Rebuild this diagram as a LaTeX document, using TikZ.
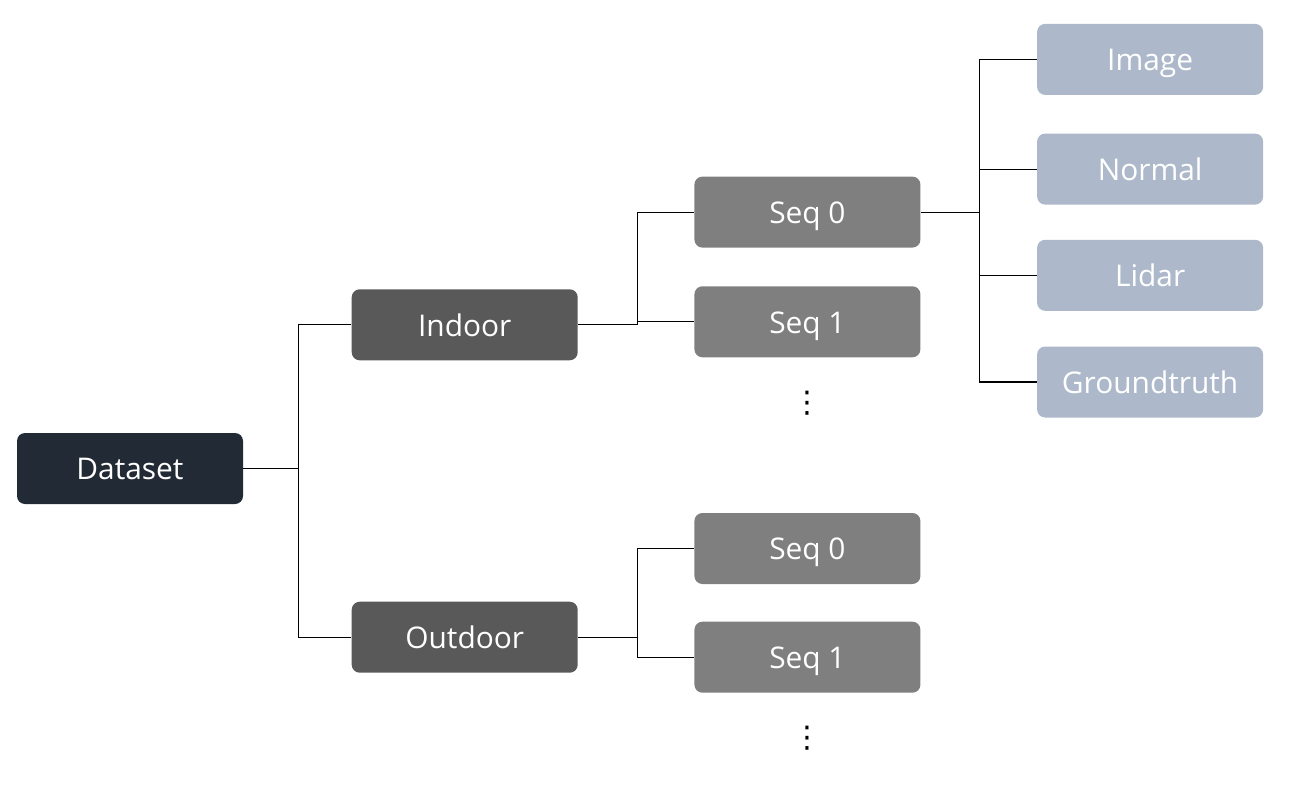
\documentclass[tikz,border=0pt]{standalone}
\usepackage{fontspec}
\setmainfont{Open Sans}
\newfontfamily\symfont{DejaVu Sans}
\usetikzlibrary{calc, positioning}
\definecolor{rootcol}{HTML}{222A35}
\definecolor{groupcol}{HTML}{595959}
\definecolor{seqcol}{HTML}{7F7F7F}
\definecolor{leafcol}{HTML}{ADB9CA}
\tikzset{
    box/.style={rectangle, rounded corners=0.16cm, text=white, align=center,
        minimum width=4.52cm, minimum height=1.42cm, inner sep=0pt,
        text height=13pt, text depth=0pt,
        font=\fontsize{17}{20}\selectfont},
    more/.style={inner sep=0pt, font=\symfont\fontsize{17}{20}\selectfont},
    link/.style={draw=black, line width=0.6pt},
}

\begin{document}
\begin{tikzpicture}[node distance=0.76cm and 2.32cm]

    \useasboundingbox (0,0) rectangle (26.22,15.78);

    % Nodes
    \node (d0) [box, fill=rootcol] at (2.6,6.41) {Dataset};
    \node (g0) [box, fill=groupcol, above right=1.44cm and 2.16cm of d0] {Indoor};
    \node (g1) [box, fill=groupcol, below right=1.94cm and 2.16cm of d0] {Outdoor};

    \node (s0) [box, fill=seqcol, above right=0.82cm and 2.32cm of g0] {Seq 0};
    \node (s1) [box, fill=seqcol, below=of s0] {Seq 1};
    \node (s2) [more, below=0.66cm of s1] {⋮};

    \node (t0) [box, fill=seqcol, above right=0.34cm and 2.32cm of g1] {Seq 0};
    \node (t1) [box, fill=seqcol, below=0.74cm of t0] {Seq 1};
    \node (t2) [more, below=0.66cm of t1] {⋮};

    \node (l0) [box, fill=leafcol, above right=1.62cm and 2.32cm of s0] {Image};
    \node (l1) [box, fill=leafcol, below=0.76cm of l0] {Normal};
    \node (l2) [box, fill=leafcol, below=0.69cm of l1] {Lidar};
    \node (l3) [box, fill=leafcol, below=0.70cm of l2] {Groundtruth};

    % Connectors
    \coordinate (j0) at ($(d0.east)+(1.1,0)$);
    \coordinate (j1) at ($(g0.east)+(1.18,0)$);
    \coordinate (j2) at ($(g1.east)+(1.18,0)$);
    \coordinate (j3) at ($(s0.east)+(1.18,0)$);

    \begin{scope}[link]

        \draw (d0.east) -- (j0) |- (g0.west);
        \draw (j0) |- (g1.west);

        \draw (g0.east) -- (j1) |- (s0.west);
        \draw (j1) |- (s1.west);

        \draw (g1.east) -- (j2) |- (t0.west);
        \draw (j2) |- (t1.west);

        \draw (s0.east) -- (j3) |- (l0.west);
        \draw (j3) |- (l1.west);
        \draw (j3) |- (l2.west);
        \draw (j3) |- (l3.west);

    \end{scope}

\end{tikzpicture}
\end{document}
